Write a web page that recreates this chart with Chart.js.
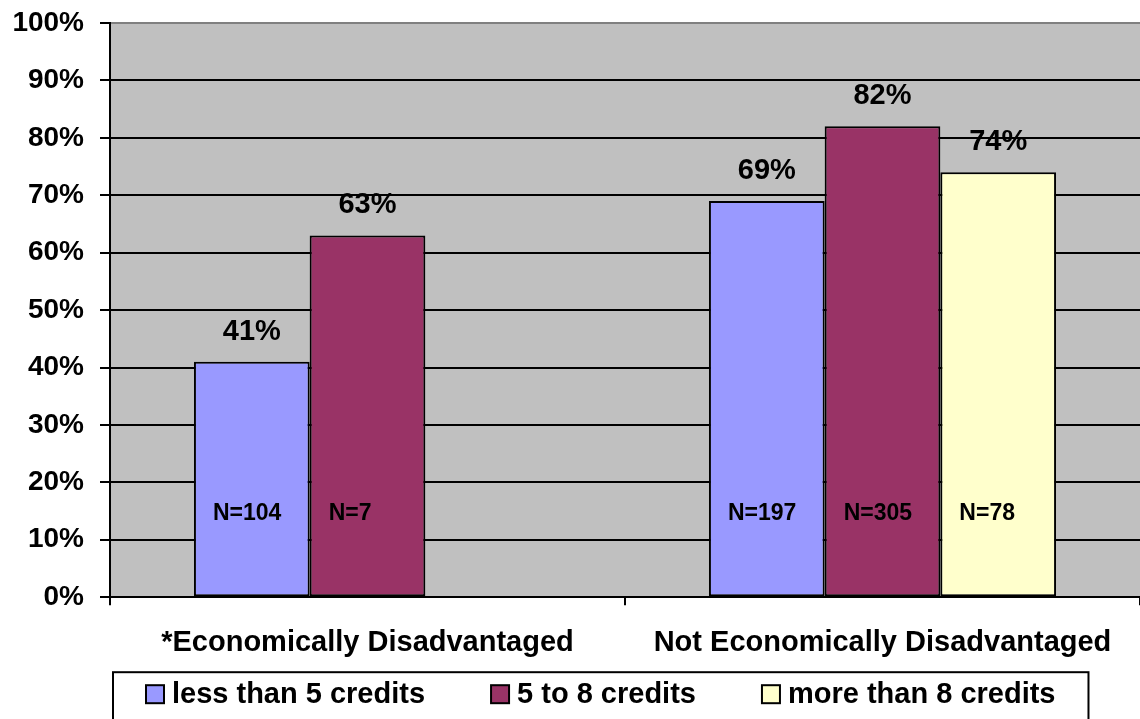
<!DOCTYPE html>
<html lang="en">
  <head>
    <meta charset="UTF-8" />
    <title>Credits by economic status</title>
    <script src="https://cdn.jsdelivr.net/npm/chart.js"></script>
    <style>
      body {
        margin: 0;
        background: #ffffff;
      }
      #chart {
        display: block;
      }
    </style>
  </head>
  <body>
    <canvas id="chart" width="1140" height="719"></canvas>

    <script>
      const categories = ["*Economically Disadvantaged", "Not Economically Disadvantaged"];
      const seriesNames = ["less than 5 credits", "5 to 8 credits", "more than 8 credits"];
      const lessThan5 = [41, 69];
      const fiveTo8 = [63, 82];
      const moreThan8 = [null, 74];
      const nLessThan5 = [104, 197];
      const nFiveTo8 = [7, 305];
      const nMoreThan8 = [null, 78];
      const yTicks = [0, 10, 20, 30, 40, 50, 60, 70, 80, 90, 100];

      const FONT = "'Liberation Sans', Arial, sans-serif";
      const colors = ["#9999FF", "#993366", "#FFFFCC"];
      const seriesData = [lessThan5, fiveTo8, moreThan8];
      const counts = [nLessThan5, nFiveTo8, nMoreThan8];

      // grey plot area
      const plotBackground = {
        id: "plotBackground",
        beforeDraw(chart) {
          const a = chart.chartArea;
          const c = chart.ctx;
          c.save();
          c.fillStyle = "#C0C0C0";
          c.fillRect(a.left, a.top, a.right - a.left, a.bottom - a.top);
          c.restore();
        },
      };

      // percentages above bars, N= inside bars
      const barLabels = {
        id: "barLabels",
        afterDatasetsDraw(chart) {
          const c = chart.ctx;
          const y = chart.scales.y;
          c.save();
          c.fillStyle = "#000";
          chart.data.datasets.forEach((ds, i) => {
            const meta = chart.getDatasetMeta(i);
            meta.data.forEach((bar, j) => {
              if (ds.data[j] == null) return;
              c.font = "bold 29px " + FONT;
              c.textAlign = "center";
              c.textBaseline = "middle";
              c.fillText(ds.data[j] + "%", bar.x, bar.y - 30);
              c.font = "bold 23px " + FONT;
              c.textAlign = "left";
              c.fillText("N=" + counts[i][j], bar.x - bar.width / 2 + 19, y.getPixelForValue(14.6));
            });
          });
          c.restore();
        },
      };

      // legend drawn by hand so the item gaps can be wide, with a frame round it
      const boxLegend = {
        id: "boxLegend",
        afterDraw(chart) {
          const c = chart.ctx;
          const a = chart.chartArea;
          const midY = a.bottom + 97;
          const gap = 66;
          c.save();
          c.font = "bold 29px " + FONT;
          c.textBaseline = "middle";
          c.textAlign = "left";
          let x = a.left + 36;
          const start = x;
          chart.data.datasets.forEach((ds) => {
            c.fillStyle = ds.backgroundColor;
            c.fillRect(x, midY - 9, 18, 18);
            c.strokeStyle = "#000";
            c.lineWidth = 2;
            c.strokeRect(x, midY - 9, 18, 18);
            c.fillStyle = "#000";
            c.fillText(ds.label, x + 26, midY + 1);
            x += 26 + c.measureText(ds.label).width + gap;
          });
          const end = x - gap;
          c.lineWidth = 2;
          c.strokeRect(start - 33, midY - 22, end - start + 66, 60);
          c.restore();
        },
      };

      new Chart(document.getElementById("chart"), {
        type: "bar",
        data: {
          labels: categories,
          datasets: seriesNames.map((name, i) => ({
            label: name,
            data: seriesData[i],
            backgroundColor: colors[i],
            borderColor: "#000",
            borderWidth: 2,
            borderSkipped: false,
            categoryPercentage: 0.674,
            barPercentage: 1,
          })),
        },
        options: {
          responsive: false,
          animation: false,
          devicePixelRatio: 1,
          layout: { padding: { top: 23, right: 0, left: 0, bottom: 39 } },
          plugins: {
            tooltip: { enabled: false },
            legend: { display: false },
          },
          scales: {
            x: {
              grid: {
                offset: true,
                drawOnChartArea: false,
                color: "#000",
                lineWidth: 2,
                tickLength: 8,
              },
              border: { color: "#000", width: 2 },
              ticks: {
                color: "#000",
                padding: 20,
                font: { family: FONT, size: 29, weight: "bold" },
              },
            },
            y: {
              min: 0,
              max: 100,
              afterBuildTicks(scale) {
                scale.ticks = yTicks.map((v) => ({ value: v }));
              },
              afterFit(scale) {
                scale.width = 110;
                scale.paddingTop = 0;
              },
              grid: {
                color: (ctx) => (ctx.tick && ctx.tick.value === 100 ? "#808080" : "#000"),
                tickColor: "#000",
                lineWidth: 2,
                tickLength: 10,
              },
              border: { color: "#000", width: 2 },
              ticks: {
                color: "#000",
                padding: 16,
                font: { family: FONT, size: 28, weight: "bold" },
                callback: (v) => v + "%",
              },
            },
          },
        },
        plugins: [plotBackground, barLabels, boxLegend],
      });
    </script>
  </body>
</html>
